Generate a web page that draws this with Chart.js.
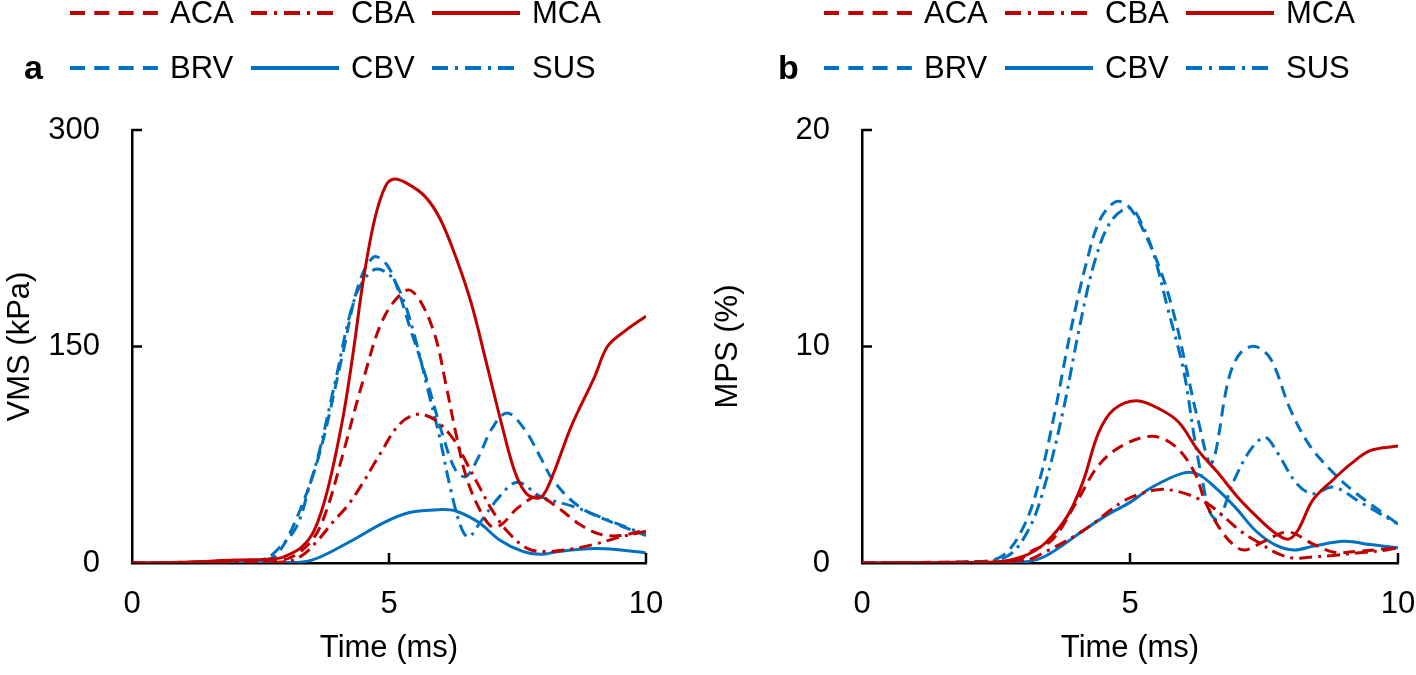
<!DOCTYPE html>
<html>
<head>
<meta charset="utf-8">
<script src="https://cdn.jsdelivr.net/npm/chart.js@4.4.1/dist/chart.umd.min.js"></script>
<style>
  body { margin: 0; width: 1416px; height: 675px; background: #fff; position: relative; overflow: hidden;
         font-family: "Liberation Sans", Arial, sans-serif; }
  .panel { position: absolute; top: 0; width: 708px; height: 675px; }
  .panel canvas { position: absolute; left: 0; top: 0; }
  .tag { position: absolute; font-weight: bold; font-size: 34px; line-height: 34px; top: 50px; }
  .item { position: absolute; height: 30px; display: flex; align-items: center; font-size: 31px; color: #000; }
  .item svg { margin-right: 12px; }
</style>
</head>
<body>
<div class="panel" id="panelA" style="left:0"><canvas id="chartA" width="708" height="675"></canvas></div>
<div class="panel" id="panelB" style="left:708px"><canvas id="chartB" width="708" height="675"></canvas></div>

<script>
const RED = "#C00000";
const BLUE = "#0070C0";

// panel a: von Mises stress (kPa) vs time (ms)
const vmsACA = [[0,0],[1,0.5],[2,1.5],[2.9,2],[3.2,6],[3.55,18],[3.8,38],[4.1,75],[4.5,127],[4.9,170],[5.35,189],[5.6,182],[5.9,157],[6.1,125],[6.3,90],[6.5,60],[6.75,38],[7.0,25],[7.2,27],[7.5,38],[7.9,46],[8.3,38],[8.7,27],[9.1,20],[9.5,19],[10,23]];
const vmsCBA = [[0,0],[2,0.5],[3,1],[3.3,5],[3.6,15],[3.9,28],[4.2,40],[4.5,56],[4.8,74],[5.2,96],[5.55,103],[5.9,99],[6.25,86],[6.5,70],[6.8,50],[7.0,37],[7.3,22],[7.7,10],[8.1,8],[8.6,10],[9.0,13],[9.5,18],[10,22]];
const vmsMCA = [[0,0],[1,0.5],[2,2],[2.8,3],[3.0,5],[3.3,11],[3.55,23],[3.8,50],[4.1,100],[4.3,145],[4.5,196],[4.72,238],[4.93,261],[5.1,266],[5.35,263],[5.7,254],[6.0,238],[6.3,212],[6.6,180],[6.9,138],[7.2,95],[7.45,63],[7.65,49],[7.85,45],[8.0,47],[8.2,62],[8.55,95],[9.0,129],[9.25,150],[9.6,161],[10,171]];
const vmsBRV = [[0,0],[2,0.5],[2.6,2],[2.85,7],[3.25,35],[3.65,76],[4.1,145],[4.4,192],[4.7,212],[4.95,207],[5.15,192],[5.4,164],[5.7,131],[6.05,88],[6.3,64],[6.5,60],[6.75,74],[7.0,93],[7.3,104],[7.65,92],[7.95,73],[8.2,57],[8.7,39],[9.35,28],[10,19]];
const vmsCBV = [[0,0],[3,0.3],[3.5,2],[4.2,14],[4.9,28],[5.4,35],[6.0,37],[6.3,36],[6.75,28],[7.15,16],[7.6,8],[7.95,6],[8.3,8],[9.0,10],[9.5,9],[10,7]];
const vmsSUS = [[0,0],[2,0.3],[2.6,3],[2.85,10],[3.2,25],[3.45,53],[3.65,78],[3.95,125],[4.35,185],[4.7,203],[5.0,200],[5.25,185],[5.5,157],[5.77,118],[5.98,88],[6.2,51],[6.4,25],[6.55,18],[6.77,28],[7.15,46],[7.5,56],[7.95,46],[8.6,39],[9.1,32],[9.75,23],[10,20]];

// panel b: maximum principal strain (%) vs time (ms)
const mpsACA = [[0,0],[2,0.05],[2.9,0.1],[3.13,0.5],[3.56,1.1],[4.0,2.8],[4.41,4.5],[4.84,5.4],[5.41,5.85],[5.84,5.4],[6.2,4.2],[6.41,2.8],[6.7,1.5],[6.95,0.8],[7.15,0.6],[7.5,1.0],[7.95,1.43],[8.4,0.9],[8.8,0.5],[9.3,0.55],[9.75,0.65],[10,0.7]];
const mpsCBA = [[0,0],[3,0.1],[3.41,0.5],[4.13,1.5],[4.84,2.8],[5.2,3.2],[5.56,3.4],[5.9,3.3],[6.25,3.0],[6.53,2.6],[6.77,2.1],[7.05,1.5],[7.43,0.9],[7.74,0.46],[8.04,0.23],[8.42,0.28],[8.8,0.35],[9.23,0.46],[9.79,0.6],[10,0.7]];
const mpsMCA = [[0,0],[2.5,0.05],[3.0,0.3],[3.41,0.9],[3.84,2.2],[4.13,3.8],[4.41,6.0],[4.7,7.1],[5.13,7.5],[5.56,7.1],[5.91,6.5],[6.27,5.2],[6.63,4.2],[6.99,3.1],[7.34,2.2],[7.7,1.4],[7.95,1.1],[8.13,1.5],[8.41,2.9],[8.77,3.8],[9.13,4.6],[9.49,5.2],[10,5.4]];
const mpsBRV = [[0,0],[2,0.05],[2.6,0.3],[3.0,1.6],[3.3,3.7],[3.6,7],[3.9,10.8],[4.2,14],[4.45,15.9],[4.75,16.7],[5.0,16.4],[5.3,15.1],[5.6,13.3],[5.85,11.2],[6.05,9],[6.27,6.6],[6.52,4.6],[6.84,8.5],[7.06,9.7],[7.34,10],[7.63,9.4],[7.99,7.1],[8.36,5.4],[8.86,4.0],[9.23,3.2],[9.72,2.3],[10,1.8]];
const mpsCBV = [[0,0],[3,0.05],[3.41,0.3],[4.13,1.5],[4.56,2.2],[5.0,2.8],[5.41,3.5],[5.99,4.15],[6.27,4.1],[6.63,3.4],[6.99,2.5],[7.34,1.5],[7.7,0.85],[8.06,0.6],[8.41,0.77],[8.99,1.0],[9.49,0.85],[10,0.7]];
const mpsSUS = [[0,0],[2,0.05],[2.7,0.3],[3.1,1.5],[3.4,3.5],[3.75,7],[4.05,10.8],[4.35,14],[4.65,15.8],[5.0,16.4],[5.25,15.5],[5.45,14.2],[5.7,11.8],[6.0,8.9],[6.2,5.8],[6.35,3.8],[6.5,2.3],[6.65,2.0],[6.92,3.7],[7.24,5.2],[7.52,5.8],[7.75,5.1],[8.1,3.7],[8.4,3.2],[8.8,3.5],[9.3,2.8],[10,1.8]];

const xTicks = [0, 5, 10];
const vmsTicks = [0, 150, 300];
const mpsTicks = [0, 10, 20];

const DASH = [12, 7];
const DASHDOT = [13, 6, 3, 6];
const SOLID = [];

// legend order as in the figure: two rows of three
const legendRows = [
  [["ACA", RED, DASH], ["CBA", RED, DASHDOT], ["MCA", RED, SOLID]],
  [["BRV", BLUE, DASH], ["CBV", BLUE, SOLID], ["SUS", BLUE, DASHDOT]],
];

function toPoints(pairs) {
  return pairs.map((p) => ({ x: p[0], y: p[1] }));
}

function line(label, pairs, color, dash) {
  return {
    label: label,
    data: toPoints(pairs),
    borderColor: color,
    borderDash: dash,
    borderWidth: 3,
    pointRadius: 0,
    fill: false,
    tension: 0.35,
  };
}

function legendDash(dash) {
  if (dash === DASH) return "15,9.3";
  if (dash === DASHDOT) return "16,7,3,7";
  return "none";
}

function buildLegend(panelId, tag, left) {
  const panel = document.getElementById(panelId);
  const t = document.createElement("div");
  t.className = "tag";
  t.style.left = left - 46 + "px";
  t.textContent = tag;
  panel.appendChild(t);
  legendRows.forEach((row, r) => {
    row.forEach((it, c) => {
      const d = document.createElement("div");
      d.className = "item";
      d.style.left = left + c * 181 + "px";
      d.style.top = (r === 0 ? -2 : 53) + "px";
      d.innerHTML =
        '<svg width="88" height="8"><line x1="0" y1="4" x2="88" y2="4" stroke="' + it[1] +
        '" stroke-width="4" stroke-dasharray="' + legendDash(it[2]) + '"/></svg>' + it[0];
      panel.appendChild(d);
    });
  });
}

// tick marks point inwards in the figure, drawn from the scales
const innerTicks = {
  id: "innerTicks",
  afterDatasetsDraw(chart) {
    const ctx = chart.ctx;
    const xs = chart.scales.x;
    const ys = chart.scales.y;
    ctx.save();
    ctx.strokeStyle = "#000";
    ctx.lineWidth = 2.5;
    ctx.beginPath();
    ys.ticks.forEach((t) => {
      if (t.value === 0) return;
      const py = ys.getPixelForValue(t.value);
      ctx.moveTo(xs.left, py);
      ctx.lineTo(xs.left + 10, py);
    });
    xs.ticks.forEach((t) => {
      if (t.value === 0) return;
      const px = xs.getPixelForValue(t.value);
      ctx.moveTo(px, ys.bottom);
      ctx.lineTo(px, ys.bottom - 10);
    });
    ctx.stroke();
    ctx.restore();
  },
};

function makePanel(canvasId, yTitle, yTicks, series, leftW, rightPad) {
  const tickFont = { family: "'Liberation Sans', Arial, sans-serif", size: 31 };
  new Chart(document.getElementById(canvasId).getContext("2d"), {
    type: "line",
    data: { datasets: series },
    options: {
      responsive: false,
      animation: false,
      layout: { padding: { top: 130, right: rightPad, left: 0, bottom: 0 } },
      plugins: { legend: { display: false }, tooltip: { enabled: false } },
      scales: {
        x: {
          type: "linear",
          min: xTicks[0],
          max: xTicks[xTicks.length - 1],
          afterBuildTicks: (s) => { s.ticks = xTicks.map((v) => ({ value: v })); },
          afterFit: (s) => {
            s.height = 112;
            s.paddingLeft = 0;
            s.paddingRight = 0;
          },
          grid: { drawOnChartArea: false, drawTicks: false },
          border: { display: true, color: "#000", width: 2.5 },
          ticks: { color: "#000", font: tickFont, padding: 23 },
          title: { display: true, text: "Time (ms)", color: "#000", font: tickFont, padding: { top: 4, bottom: 8 } },
        },
        y: {
          min: yTicks[0],
          max: yTicks[yTicks.length - 1],
          afterBuildTicks: (s) => { s.ticks = yTicks.map((v) => ({ value: v })); },
          afterFit: (s) => { s.width = leftW; },
          grid: { drawOnChartArea: false, drawTicks: false },
          border: { display: true, color: "#000", width: 2.5 },
          ticks: { color: "#000", font: tickFont, padding: 32 },
          title: { display: true, text: yTitle, color: "#000", font: tickFont, padding: { top: 2, bottom: 2 } },
        },
      },
    },
    plugins: [innerTicks],
  });
}

makePanel("chartA", "VMS (kPa)", vmsTicks, [
  line("ACA", vmsACA, RED, DASH),
  line("CBA", vmsCBA, RED, DASHDOT),
  line("MCA", vmsMCA, RED, SOLID),
  line("BRV", vmsBRV, BLUE, DASH),
  line("CBV", vmsCBV, BLUE, SOLID),
  line("SUS", vmsSUS, BLUE, DASHDOT),
], 132, 708 - 646);

makePanel("chartB", "MPS (%)", mpsTicks, [
  line("ACA", mpsACA, RED, DASH),
  line("CBA", mpsCBA, RED, DASHDOT),
  line("MCA", mpsMCA, RED, SOLID),
  line("BRV", mpsBRV, BLUE, DASH),
  line("CBV", mpsCBV, BLUE, SOLID),
  line("SUS", mpsSUS, BLUE, DASHDOT),
], 862 - 708, 1416 - 1398);

buildLegend("panelA", "a", 70);
buildLegend("panelB", "b", 116);
</script>
</body>
</html>
